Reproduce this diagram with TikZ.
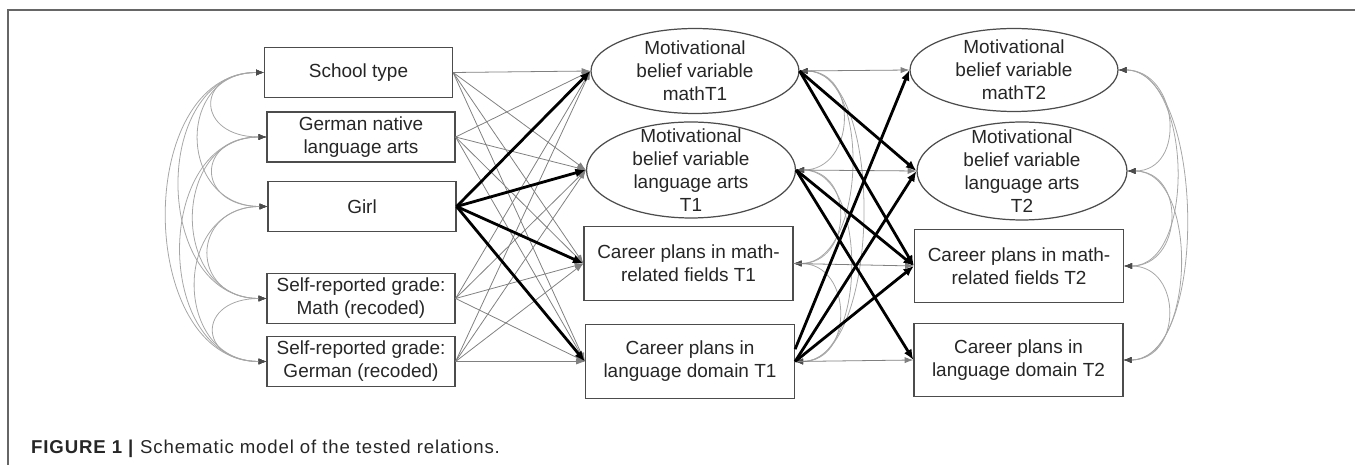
\documentclass[tikz,border=0pt]{standalone}
\usepackage{fontspec}
\setmainfont{Liberation Sans}
\usetikzlibrary{shapes.geometric,arrows.meta,calc}

\begin{document}
\begin{tikzpicture}[x=0.02cm, y=-0.02cm,
    every node/.style={font=\fontsize{10.8}{13}\selectfont, text=black!85},
    box/.style={draw=black!70, line width=0.7pt, align=center, inner sep=2pt,
        minimum width=3.76cm, minimum height=1cm},
    cbox/.style={box, minimum width=4.18cm, minimum height=1.47cm},
    mot/.style={ellipse, draw=black!70, line width=0.7pt, inner sep=0pt},
    thinpath/.style={draw=black!50, line width=0.45pt, -{Latex[length=5pt,width=3.5pt]}},
    boldpath/.style={draw=black, line width=1.6pt, -{Latex[length=6pt,width=5pt]}},
    cov/.style={draw=black!35, line width=0.45pt,
        {Latex[length=4.5pt,width=3.5pt,color=black!70]}-{Latex[length=4.5pt,width=3.5pt,color=black!70]}}]

    % Frame
    \useasboundingbox (0,0) rectangle (1355,465);
    \draw[black!60, line width=1.1pt] (8,465) -- (8,10) -- (1355,10);

    % Predictors
    \node[box] (school) at (358.5,72.5) {School type};
    \node[box] (native) at (361,137) {German native\\language arts};
    \node[box] (girl) at (362,206.5) {Girl};
    \node[box] (grmath) at (361,298.5) {Self-reported grade:\\Math (recoded)};
    \node[box] (grger) at (361,361.5) {Self-reported grade:\\German (recoded)};

    % Time 1
    \node[mot, minimum width=4.16cm, minimum height=1.7cm,
        label={[align=center]center:Motivational\\belief variable\\mathT1}] (mot1math) at (695,71) {};
    \node[mot, minimum width=4.18cm, minimum height=1.92cm,
        label={[align=center]center:Motivational\\belief variable\\language arts\\T1}] (mot1lang) at (691,170) {};
    \node[cbox] (car1math) at (688.5,263.5) {Career plans in math-\\related fields T1};
    \node[cbox] (car1lang) at (690,361.5) {Career plans in\\language domain T1};

    % Time 2
    \node[mot, minimum width=4.16cm, minimum height=1.66cm,
        label={[align=center]center:Motivational\\belief variable\\mathT2}] (mot2math) at (1014,70) {};
    \node[mot, minimum width=4.2cm, minimum height=1.96cm,
        label={[align=center]center:Motivational\\belief variable\\language arts\\T2}] (mot2lang) at (1022,171) {};
    \node[cbox] (car2math) at (1019,266) {Career plans in math-\\related fields T2};
    \node[cbox] (car2lang) at (1018.5,360) {Career plans in\\language domain T2};

    % Covariances
    \foreach \a/\b in {school/native, school/girl, school/grmath, school/grger, native/girl,
                       native/grmath, native/grger, girl/grmath, girl/grger, grmath/grger}
        \draw[cov] let \p1=(\a.west), \p2=(\b.west), \n1={30+0.27*abs(\y1-\y2)} in
            (\p1) .. controls +(-\n1,0pt) and +(-\n1,0pt) .. (\p2);
    \foreach \a/\b in {mot1math/mot1lang, mot1math/car1math, mot1math/car1lang,
                       mot1lang/car1math, mot1lang/car1lang, car1math/car1lang,
                       mot2math/mot2lang, mot2math/car2math, mot2math/car2lang,
                       mot2lang/car2math, mot2lang/car2lang, car2math/car2lang}
        \draw[cov] let \p1=(\a.east), \p2=(\b.east), \n1={26+0.14*abs(\y1-\y2)} in
            (\p1) .. controls +(\n1,0pt) and +(\n1,0pt) .. (\p2);

    % Predictors -> T1
    \foreach \a in {school, native, grmath, grger}
        \foreach \b in {mot1math, mot1lang, car1math, car1lang}
            \draw[thinpath] (\a.east) -- (\b.west);
    \foreach \b in {mot1math, mot1lang, car1math, car1lang}
        \draw[boldpath] (girl.east) -- (\b.west);

    % T1 -> T2
    \foreach \a/\b in {mot1math/mot2math, mot1lang/mot2lang, car1math/car2math, car1lang/car2lang}
        \draw[thinpath] (\a.east) -- (\b.west);
    \foreach \a/\b in {mot1math/mot2lang, mot1math/car2math, mot1lang/car2math,
                       mot1lang/car2lang, car1lang/mot2lang, car1lang/car2math}
        \draw[boldpath] (\a.east) -- (\b.west);
    \draw[boldpath] ([yshift=7pt]car1lang.east) -- (mot2math.west);

    % Caption
    \node[anchor=base west, font=\fontsize{10.6}{12}\selectfont\addfontfeatures{LetterSpace=4.5}]
        (caption) at (25,454) {\textbf{FIGURE 1 |} Schematic model of the tested relations.};
\end{tikzpicture}
\end{document}
